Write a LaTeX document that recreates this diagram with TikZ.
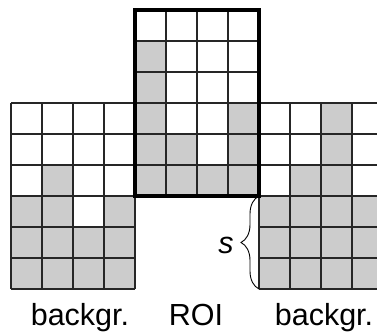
\documentclass[tikz,border=0pt]{standalone}
\usepackage{fontspec}
\setmainfont{Liberation Sans}
\usetikzlibrary{decorations.pathreplacing}
\definecolor{cellgray}{HTML}{CCCCCC}
\tikzset{
  gridline/.style={line width=1.1pt, draw=black!85},
  roiborder/.style={line width=3.6pt, draw=black},
  cellfill/.style={fill=cellgray},
  lbl/.style={font=\fontsize{30.5}{33}\selectfont, anchor=base, inner sep=0pt},
}
\begin{document}
\begin{tikzpicture}[x=1pt,y=-1pt]
\useasboundingbox (0,0) rectangle (377,333);
\clip (0,0) rectangle (377,333);
% left background grid, origin (11,103)
\foreach \c/\r in {1/2, 0/3,1/3,3/3, 0/4,1/4,2/4,3/4, 0/5,1/5,2/5,3/5}
  \fill[cellfill] ({11+31*\c},{103+31*\r}) rectangle ++(31,31);
% ROI grid, origin (135,10)
\foreach \c/\r in {0/1, 0/2, 0/3,3/3, 0/4,1/4,3/4, 0/5,1/5,2/5,3/5}
  \fill[cellfill] ({135+31*\c},{10+31*\r}) rectangle ++(31,31);
% right background grid, origin (259,103)
\foreach \c/\r in {2/0, 2/1, 1/2,2/2, 0/3,1/3,2/3,3/3, 0/4,1/4,2/4,3/4, 0/5,1/5,2/5,3/5}
  \fill[cellfill] ({259+31*\c},{103+31*\r}) rectangle ++(31,31);
% grid lines
\foreach \xo/\yo in {11/103, 135/10, 259/103} {
  \foreach \i in {0,...,4}
    \draw[gridline] ({\xo+31*\i},\yo) -- ++(0,186);
  \foreach \j in {0,...,6}
    \draw[gridline] (\xo,{\yo+31*\j}) -- ++(124,0);
}
\draw[roiborder] (135,10) rectangle (259,196);
% brace
\coordinate (bt) at (259,196);
\coordinate (bb) at (259,289);
\draw[line width=0.9pt, decorate, decoration={brace, amplitude=18pt}] (bb) -- (bt);
% labels
\node[lbl, font=\fontsize{30.5}{33}\selectfont\itshape] (s) at (226,253) {s};
\node[lbl] (lb) at (80,325) {backgr.};
\node[lbl] (roi) at (196,325) {ROI};
\node[lbl] (rb) at (324,325) {backgr.};
\end{tikzpicture}
\end{document}
